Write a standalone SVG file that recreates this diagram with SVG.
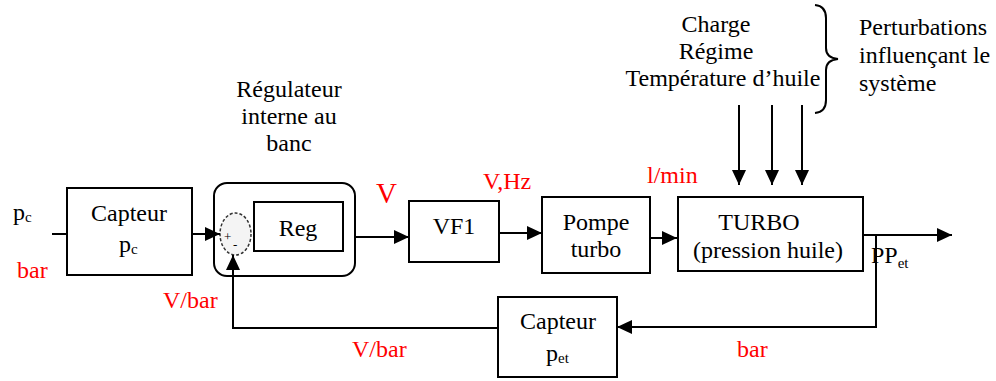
<svg xmlns="http://www.w3.org/2000/svg" width="996" height="381" viewBox="0 0 996 381" font-family="Liberation Serif, Times New Roman, serif">
<style>
text{font-size:24px;fill:#000}
.r{fill:#ff0000}
.s{font-size:15px}
.c{text-anchor:middle}
.box{fill:none;stroke:#000;stroke-width:2}
.ln{fill:none;stroke:#000;stroke-width:2}
</style>
<defs>
<marker id="ah" viewBox="0 0 15 14" refX="15" refY="7" markerWidth="15" markerHeight="14" markerUnits="userSpaceOnUse" orient="auto">
<path d="M0,0 L15,7 L0,14 z" fill="#000"/>
</marker>
</defs>
<rect width="996" height="381" fill="#fff"/>

<g id="input-label">
<text x="13" y="220">p<tspan class="s" dy="2">c</tspan></text>
<text class="r" x="17" y="278">bar</text>
</g>

<g id="capteur-pc">
<rect class="box" x="67" y="188" width="125" height="87"/>
<text class="c" x="129" y="221">Capteur</text>
<text x="119" y="252">p<tspan class="s" dy="2">c</tspan></text>
</g>

<g id="regulateur">
<text class="c" x="289" y="97">Régulateur</text>
<text class="c" x="289" y="124">interne au</text>
<text class="c" x="289" y="151">banc</text>
<rect class="box" x="214" y="183" width="141" height="93" rx="13" ry="13"/>
<ellipse cx="235.5" cy="234" rx="15.5" ry="21" fill="#f4f4f4" stroke="#333" stroke-width="1.5" stroke-dasharray="3,2"/>
<text x="224" y="241" style="font-size:13px">+</text>
<text x="233" y="249" style="font-size:13px">-</text>
<rect class="box" x="254" y="202" width="89" height="49"/>
<text class="c" x="298" y="236">Reg</text>
</g>

<g id="labels-signals">
<text class="r" x="376" y="203" style="font-size:29px">V</text>
<text class="r" x="483" y="189">V,Hz</text>
<text class="r" x="647" y="183">l/min</text>
<text class="r" x="163" y="308">V/bar</text>
<text class="r" x="352" y="357">V/bar</text>
<text class="r" x="737" y="357">bar</text>
</g>

<g id="vf1">
<rect class="box" x="409" y="201" width="90" height="61"/>
<text class="c" x="454" y="234">VF1</text>
</g>

<g id="pompe">
<rect class="box" x="542" y="197" width="108" height="76"/>
<text class="c" x="596" y="230">Pompe</text>
<text class="c" x="596" y="257">turbo</text>
</g>

<g id="turbo">
<rect class="box" x="678" y="197" width="185" height="74"/>
<text class="c" x="759" y="230">TURBO</text>
<text class="c" x="768" y="258">(pression huile)</text>
</g>

<g id="output-label">
<text x="871" y="263">PP<tspan class="s" dy="5">et</tspan></text>
</g>

<g id="capteur-pet">
<rect class="box" x="498" y="297" width="119" height="80"/>
<text class="c" x="558" y="329">Capteur</text>
<text x="546" y="361">p<tspan class="s" dy="2">et</tspan></text>
</g>

<g id="perturbations">
<text class="c" x="716" y="32">Charge</text>
<text class="c" x="716" y="59">Régime</text>
<text class="c" x="723" y="86">Température d’huile</text>
<path class="ln" d="M815,5 Q826,6 826,18 V48 Q826,58 838,59 Q826,60 826,70 V100 Q826,112 815,113" stroke-width="1.5"/>
<text x="859" y="35">Perturbations</text>
<text x="859" y="63">influençant le</text>
<text x="859" y="91">système</text>
</g>

<g id="connectors">
<path class="ln" d="M52,234 H67"/>
<path class="ln" d="M192,234 H220" marker-end="url(#ah)"/>
<path class="ln" d="M355,237 H409" marker-end="url(#ah)"/>
<path class="ln" d="M499,233 H542" marker-end="url(#ah)"/>
<path class="ln" d="M650,238 H677" marker-end="url(#ah)"/>
<path class="ln" d="M863,235 H952" marker-end="url(#ah)"/>
<path class="ln" d="M876,235 V327 H617" marker-end="url(#ah)"/>
<path class="ln" d="M498,328 H233 V255" marker-end="url(#ah)"/>
<path class="ln" d="M739,105 V185" marker-end="url(#ah)"/>
<path class="ln" d="M772,105 V185" marker-end="url(#ah)"/>
<path class="ln" d="M802,105 V185" marker-end="url(#ah)"/>
</g>
</svg>
